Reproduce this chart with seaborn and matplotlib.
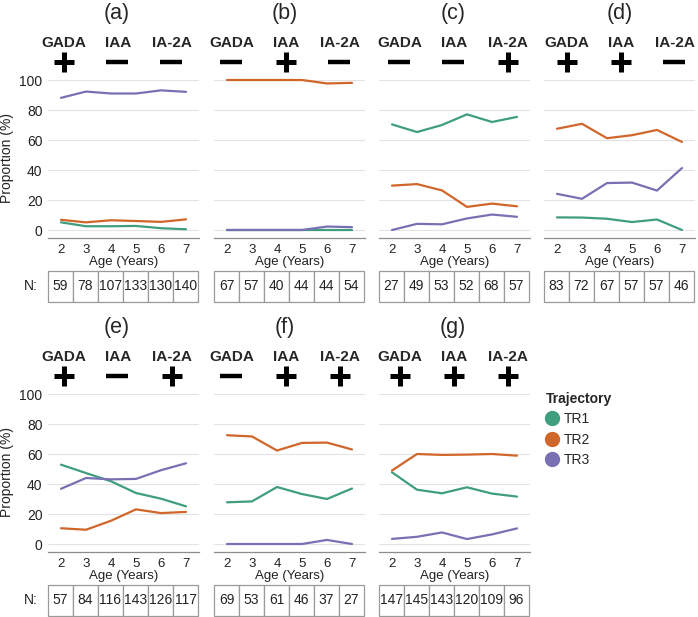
import matplotlib
matplotlib.use("Agg")
import matplotlib.pyplot as plt
from matplotlib.lines import Line2D
import seaborn as sns
import pandas as pd

# ---- data ----
ages = [2, 3, 4, 5, 6, 7]
trajectories = ["TR1", "TR2", "TR3"]
panel_names = ["(a)", "(b)", "(c)", "(d)", "(e)", "(f)", "(g)"]

gada_status = ["+", "-", "-", "+", "+", "-", "+"]
iaa_status = ["-", "+", "-", "+", "-", "+", "+"]
ia2a_status = ["-", "-", "+", "-", "+", "+", "+"]

tr1 = {
    "(a)": [5.1, 2.5, 2.5, 2.7, 1.2, 0.5],
    "(b)": [0.0, 0.0, 0.0, 0.0, 0.0, 0.0],
    "(c)": [70.4, 65.3, 70.0, 77.1, 72.0, 75.4],
    "(d)": [8.4, 8.3, 7.5, 5.3, 7.0, 0.0],
    "(e)": [52.9, 47.3, 41.8, 34.0, 30.2, 25.1],
    "(f)": [27.8, 28.4, 38.0, 33.3, 30.0, 37.0],
    "(g)": [47.8, 36.2, 33.8, 37.8, 33.6, 31.6],
}
tr2 = {
    "(a)": [6.8, 5.1, 6.5, 6.0, 5.4, 7.1],
    "(b)": [100.0, 100.0, 100.0, 100.0, 97.7, 98.1],
    "(c)": [29.6, 30.6, 26.4, 15.4, 17.6, 15.8],
    "(d)": [67.5, 70.8, 61.2, 63.2, 66.7, 58.7],
    "(e)": [10.5, 9.5, 15.5, 23.1, 20.6, 21.4],
    "(f)": [72.5, 71.7, 62.3, 67.4, 67.6, 63.0],
    "(g)": [49.0, 60.0, 59.4, 59.6, 60.0, 58.9],
}
tr3 = {
    "(a)": [88.1, 92.3, 91.0, 91.0, 93.1, 92.1],
    "(b)": [0.0, 0.0, 0.0, 0.0, 2.3, 1.9],
    "(c)": [0.0, 4.1, 3.8, 7.7, 10.3, 8.8],
    "(d)": [24.1, 20.8, 31.3, 31.6, 26.3, 41.3],
    "(e)": [36.8, 44.0, 43.1, 43.4, 49.2, 53.8],
    "(f)": [0.0, 0.0, 0.0, 0.0, 2.7, 0.0],
    "(g)": [3.4, 4.8, 7.7, 3.3, 6.4, 10.4],
}
n_counts = {
    "(a)": [59, 78, 107, 133, 130, 140],
    "(b)": [67, 57, 40, 44, 44, 54],
    "(c)": [27, 49, 53, 52, 68, 57],
    "(d)": [83, 72, 67, 57, 57, 46],
    "(e)": [57, 84, 116, 143, 126, 117],
    "(f)": [69, 53, 61, 46, 37, 27],
    "(g)": [147, 145, 143, 120, 109, 96],
}

colors = ["#3f9e7d", "#d0662a", "#7771b3"]

rows = []
for p in panel_names:
    for tr, series in zip(trajectories, [tr1, tr2, tr3]):
        for age, v in zip(ages, series[p]):
            rows.append({"panel": p, "Age": age, "Trajectory": tr, "Proportion": v})
df = pd.DataFrame(rows)

# ---- figure setup ----
sns.set_theme(style="white")
plt.rcParams["font.family"] = ["Liberation Sans", "DejaVu Sans"]

W, H = 698, 617
fig = plt.figure(figsize=(W / 100, H / 100), dpi=100)


def rect(left, top, width, height):
    return [left / W, 1 - (top + height) / H, width / W, height / H]


# overlay in pixel coords for headers / N labels
ov = fig.add_axes([0, 0, 1, 1])
ov.set_xlim(0, W)
ov.set_ylim(H, 0)
ov.axis("off")

lefts = [48, 214, 379, 544, 48, 214, 379]
grid_top = [80, 80, 80, 80, 394, 394, 394]
head_center = [117, 285, 453, 620, 117, 285, 453]
ax_w = 151
px_per_unit = 1.5  # 100 % -> 150 px
ylo, yhi = -5, 101

for i, p in enumerate(panel_names):
    top = grid_top[i] - (yhi - 100) * px_per_unit
    hgt = (yhi - ylo) * px_per_unit
    ax = fig.add_axes(rect(lefts[i], top, ax_w, hgt))
    sub = df[df["panel"] == p]
    sns.lineplot(data=sub, x="Age", y="Proportion", hue="Trajectory",
                 palette=colors, hue_order=trajectories, linewidth=1.6,
                 legend=False, ax=ax, clip_on=False)
    ax.set_xlim(1.48, 7.52)
    ax.set_ylim(ylo, yhi)
    ax.set_xticks(ages)
    ax.set_yticks([0, 20, 40, 60, 80, 100])
    ax.yaxis.grid(True, color="#e3e3e3", linewidth=0.8)
    ax.set_axisbelow(True)
    for s in ["top", "right", "left"]:
        ax.spines[s].set_visible(False)
    ax.spines["bottom"].set_color("#8c8c8c")
    ax.spines["bottom"].set_linewidth(0.9)
    ax.tick_params(axis="x", length=4, width=0.9, color="#8c8c8c", pad=1,
                   labelsize=9.5, labelcolor="#222222")
    ax.tick_params(axis="y", length=0, pad=4, labelsize=10, labelcolor="#222222")
    ax.set_xlabel("Age (Years)", fontsize=9.5, labelpad=0, color="#222222")
    if i in (0, 4):
        ax.set_ylabel("Proportion (%)", fontsize=10, labelpad=4, color="#222222")
    else:
        ax.set_ylabel("")
        ax.set_yticklabels([])

    # N table
    tab_top = 271 if i < 4 else 585
    tax = fig.add_axes(rect(lefts[i], tab_top, ax_w - 1, 31))
    tax.axis("off")
    tbl = tax.table(cellText=[[str(n) for n in n_counts[p]]], cellLoc="center",
                    bbox=[0, 0, 1, 1])
    tbl.auto_set_font_size(False)
    tbl.set_fontsize(10)
    for cell in tbl.get_celld().values():
        cell.set_edgecolor("#9a9a9a")
        cell.set_linewidth(0.9)
        cell.get_text().set_color("#222222")
    if i in (0, 4):
        ov.text(31, tab_top + 15.5, "N:", fontsize=10, ha="center", va="center",
                color="#222222")

    # headers
    g = grid_top[i]
    hc = head_center[i]
    ov.text(hc, g - 66, p, fontsize=15.5, ha="center", va="center")
    for dx, name, st in zip([-53, 1, 55], ["GADA", "IAA", "IA-2A"],
                            [gada_status[i], iaa_status[i], ia2a_status[i]]):
        ov.text(hc + dx, g - 37, name, fontsize=11, fontweight="bold",
                ha="center", va="center")
        if st == "+":
            ov.plot([hc + dx], [g - 18], marker="+", ms=14, mew=3.6,
                    color="black", linestyle="none")
        else:
            ov.plot([hc + dx - 1], [g - 18], marker="_", ms=16, mew=3.2,
                    color="black", linestyle="none")

# legend
handles = [Line2D([], [], marker="o", linestyle="none", markersize=10,
                  markerfacecolor=c, markeredgecolor=c) for c in colors]
leg = fig.legend(handles, trajectories, title="Trajectory", loc="upper left",
                 bbox_to_anchor=(546 / W, 1 - 392 / H), frameon=False,
                 fontsize=10, title_fontsize=10, handlelength=0.9,
                 handletextpad=0.35, labelspacing=0.45, borderpad=0,
                 borderaxespad=0, alignment="left")
leg.get_title().set_fontweight("bold")

fig.savefig("out.png", dpi=100)
